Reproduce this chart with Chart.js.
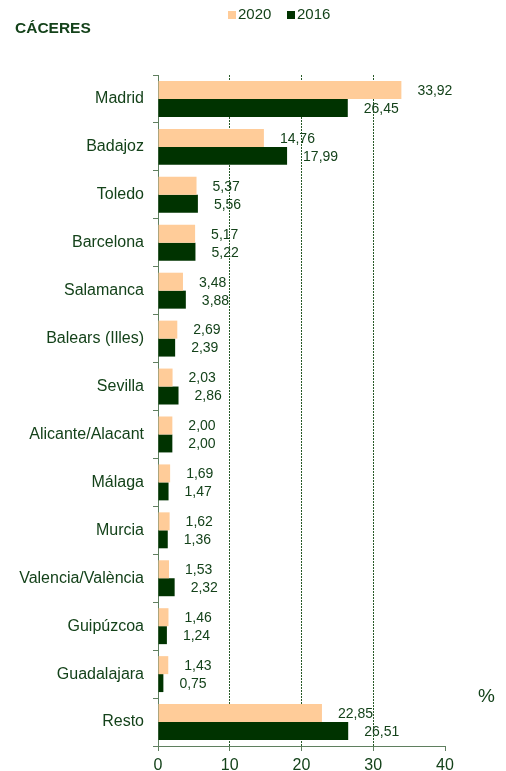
<!DOCTYPE html>
<html>
<head>
<meta charset="utf-8">
<script src="https://cdn.jsdelivr.net/npm/chart.js@4.4.1/dist/chart.umd.min.js"></script>
<style>
  html, body { margin: 0; padding: 0; background: #fff; }
  #wrap { width: 506px; height: 771px; }
</style>
</head>
<body>
<div id="wrap"><canvas id="bargraph" width="506" height="771"></canvas></div>
<script>
// datos del gráfico
const provincias = ['Madrid', 'Badajoz', 'Toledo', 'Barcelona', 'Salamanca', 'Balears (Illes)',
  'Sevilla', 'Alicante/Alacant', 'Málaga', 'Murcia', 'Valencia/València', 'Guipúzcoa',
  'Guadalajara', 'Resto'];
const valores2020 = [33.92, 14.76, 5.37, 5.17, 3.48, 2.69, 2.03, 2.00, 1.69, 1.62, 1.53, 1.46, 1.43, 22.85];
const valores2016 = [26.45, 17.99, 5.56, 5.22, 3.88, 2.39, 2.86, 2.00, 1.47, 1.36, 2.32, 1.24, 0.75, 26.51];
const ticksX = [0, 10, 20, 30, 40];
const titulo = 'CÁCERES';

const verde = '#14421a';
const ejes = '#5f7f5f';
const FONT = 'Arial, "Liberation Sans", sans-serif';

// etiquetas de valor, titulo, leyenda y %
const extras = {
  id: 'extras',
  afterDatasetsDraw(chart) {
    const ctx = chart.ctx;
    ctx.save();
    ctx.fillStyle = verde;
    ctx.font = '14px ' + FONT;
    ctx.textBaseline = 'middle';
    ctx.textAlign = 'left';
    chart.data.datasets.forEach((ds, i) => {
      chart.getDatasetMeta(i).data.forEach((bar, j) => {
        const txt = ds.data[j].toFixed(2).replace('.', ',');
        ctx.fillText(txt, bar.x + 16, bar.y + 1);
      });
    });
    ctx.restore();
  },
  afterDraw(chart) {
    const ctx = chart.ctx;
    ctx.save();
    ctx.fillStyle = verde;
    ctx.textBaseline = 'middle';
    // titulo
    ctx.font = 'bold 15.5px ' + FONT;
    ctx.textAlign = 'left';
    ctx.fillText(titulo, 15, 29);
    // leyenda
    ctx.font = '15px ' + FONT;
    let x = 228;
    chart.data.datasets.forEach(ds => {
      ctx.fillStyle = ds.backgroundColor;
      ctx.fillRect(x, 11, 8, 8);
      ctx.fillStyle = verde;
      ctx.fillText(ds.label, x + 10, 15);
      x += 59;
    });
    // %
    ctx.font = '19px ' + FONT;
    ctx.fillText('%', 478, 697);
    ctx.restore();
  }
};

let context = document.getElementById('bargraph').getContext('2d');
let graph = new Chart(context, {
  type: 'bar',
  plugins: [extras],
  data: {
    labels: provincias,
    datasets: [
      { label: '2020', data: valores2020, backgroundColor: '#ffcc99' },
      { label: '2016', data: valores2016, backgroundColor: '#003300' }
    ]
  },
  options: {
    indexAxis: 'y',
    responsive: false,
    animation: false,
    categoryPercentage: 0.75,
    barPercentage: 1,
    layout: { padding: { top: 75, right: 61, left: 0, bottom: 0 } },
    plugins: {
      legend: { display: false },
      tooltip: { enabled: false }
    },
    scales: {
      x: {
        min: 0,
        max: 40,
        afterBuildTicks: s => { s.ticks = ticksX.map(v => ({ value: v })); },
        afterFit: s => { s.height = 25; },
        ticks: {
          color: verde,
          font: { family: FONT, size: 16 },
          padding: 5
        },
        grid: {
          color: c => (c.tick && (c.tick.value === 0 || c.tick.value === 40)) ? 'rgba(0,0,0,0)' : '#285a28',
          tickColor: ejes,
          tickLength: 5,
          tickBorderDash: [],
          lineWidth: 1
        },
        border: { color: ejes, dash: [2, 1] }
      },
      y: {
        afterFit: s => { s.width = 158; },
        ticks: {
          color: verde,
          font: { family: FONT, size: 16 },
          padding: 9
        },
        grid: {
          drawOnChartArea: false,
          tickColor: ejes,
          tickLength: 5
        },
        border: { color: ejes }
      }
    }
  }
});
</script>
</body>
</html>
